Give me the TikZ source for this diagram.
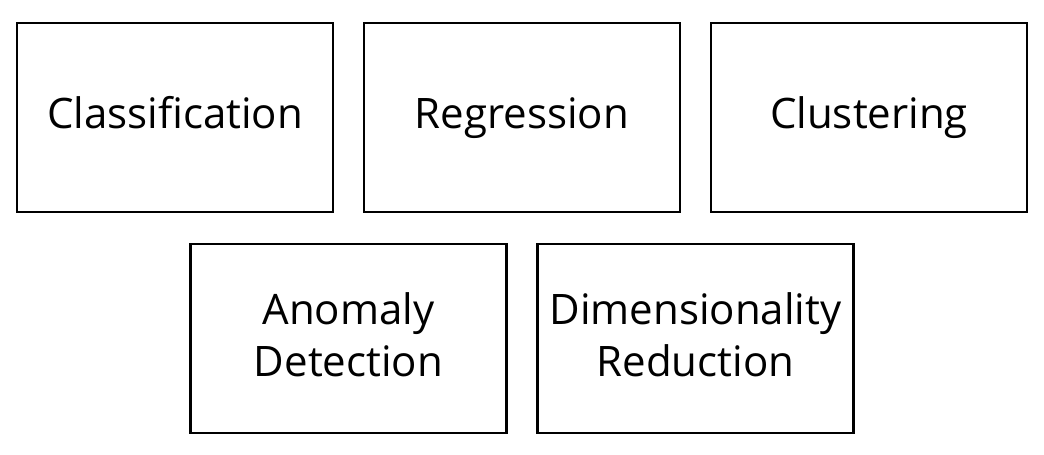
\documentclass[tikz,border=0pt]{standalone}
\usepackage{fontspec}
\setmainfont{Open Sans}
\begin{document}
\begin{tikzpicture}[x=1pt,y=-1pt,
  box/.style={draw=black, line width=2.4pt, minimum width=316pt, minimum height=189pt, inner sep=0pt},
  txt/.style={inner sep=0pt, anchor=base, align=center, font=\fontsize{42}{52.7}\selectfont}]
\useasboundingbox[fill=white] (0,0) rectangle (1044,455);
\node[box] (cls) at (175,117.5) {};
\node[box] (reg) at (522,117.5) {};
\node[box] (clu) at (869,117.5) {};
\node[box] (ano) at (348.5,338.5) {};
\node[box] (dim) at (695.5,338.5) {};
\node[txt] (clst) at ([yshift=-10.5pt]cls.center) {Classification};
\node[txt] (regt) at ([yshift=-10.5pt]reg.center) {Regression};
\node[txt] (clut) at ([yshift=-10.5pt]clu.center) {Clustering};
\node[txt] (anot) at ([yshift=-38.2pt]ano.center) {Anomaly\\Detection};
\node[txt] (dimt) at ([yshift=-38.2pt]dim.center) {Dimensionality\\Reduction};
\end{tikzpicture}
\end{document}
